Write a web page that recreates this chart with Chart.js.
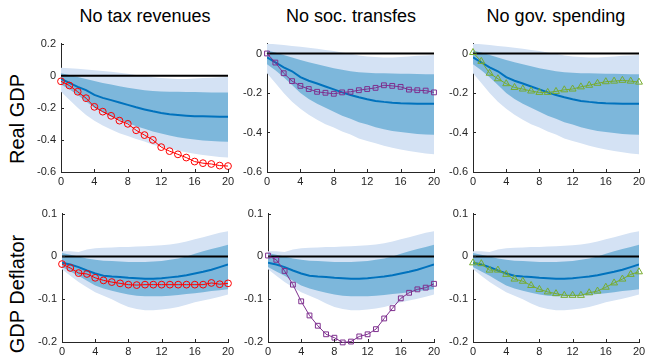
<!DOCTYPE html>
<html>
<head>
<meta charset="utf-8">
<script src="https://cdn.jsdelivr.net/npm/chart.js@4.4.1/dist/chart.umd.min.js"></script>
<style>
  html, body { margin: 0; padding: 0; background: #ffffff; }
  #stage { position: relative; width: 648px; height: 356px; overflow: hidden; font-family: "Liberation Sans", Arial, sans-serif; }
  .panel { position: absolute; }
  .col-title { position: absolute; top: 6px; width: 220px; text-align: center; font-size: 18px; color: #000; white-space: nowrap; }
  .row-title { position: absolute; font-size: 20px; color: #000; white-space: nowrap; transform: translate(-50%, -50%) rotate(-90deg); }
</style>
</head>
<body>
<div id="stage">
  <div class="col-title" style="left:35px">No tax revenues</div>
  <div class="col-title" style="left:241px">No soc. transfes</div>
  <div class="col-title" style="left:446px">No gov. spending</div>
  <div class="row-title" style="left:17px; top:119px">Real GDP</div>
  <div class="row-title" style="left:17px; top:294px">GDP Deflator</div>
</div>
<script>
// Quarters after the shock
const horizon = [0, 1, 2, 3, 4, 5, 6, 7, 8, 9, 10, 11, 12, 13, 14, 15, 16, 17, 18, 19, 20];
const xTicks = [0, 4, 8, 12, 16, 20];

// Real GDP: baseline response with credible bands
const gdpMedian     = [-0.02, -0.045, -0.07, -0.09, -0.12, -0.138, -0.152, -0.167, -0.182, -0.197, -0.21, -0.222, -0.232, -0.24, -0.245, -0.249, -0.252, -0.253, -0.254, -0.255, -0.255];
const gdpInnerUpper = [0.015, 0.005, -0.008, -0.02, -0.033, -0.045, -0.055, -0.065, -0.075, -0.083, -0.09, -0.095, -0.098, -0.1, -0.1, -0.101, -0.102, -0.103, -0.104, -0.105, -0.105];
const gdpInnerLower = [-0.055, -0.085, -0.12, -0.16, -0.2, -0.23, -0.255, -0.275, -0.295, -0.315, -0.33, -0.348, -0.36, -0.373, -0.383, -0.392, -0.398, -0.403, -0.407, -0.41, -0.412];
const gdpOuterUpper = [0.05, 0.047, 0.043, 0.038, 0.034, 0.029, 0.024, 0.018, 0.012, 0.005, -0.002, -0.01, -0.015, -0.018, -0.02, -0.02, -0.018, -0.015, -0.012, -0.01, -0.008];
const gdpOuterLower = [-0.1, -0.15, -0.2, -0.245, -0.28, -0.31, -0.335, -0.358, -0.375, -0.395, -0.41, -0.43, -0.443, -0.455, -0.467, -0.477, -0.486, -0.494, -0.5, -0.506, -0.51];

// Real GDP: counterfactual responses
const gdpNoTax       = [-0.035, -0.061, -0.1, -0.14, -0.194, -0.224, -0.25, -0.28, -0.3, -0.34, -0.37, -0.4, -0.445, -0.47, -0.49, -0.51, -0.535, -0.545, -0.55, -0.56, -0.563];
const gdpNoTransfers = [0, -0.046, -0.1, -0.14, -0.164, -0.18, -0.194, -0.199, -0.204, -0.197, -0.194, -0.186, -0.18, -0.174, -0.161, -0.164, -0.169, -0.183, -0.186, -0.188, -0.197];
const gdpNoSpending  = [0.005, -0.04, -0.1, -0.128, -0.153, -0.172, -0.18, -0.19, -0.197, -0.197, -0.192, -0.184, -0.18, -0.169, -0.161, -0.151, -0.143, -0.14, -0.136, -0.14, -0.145];

// GDP deflator: baseline response with credible bands
const deflMedian     = [-0.015, -0.019, -0.025, -0.033, -0.04, -0.045, -0.047, -0.048, -0.05, -0.051, -0.052, -0.052, -0.051, -0.049, -0.047, -0.044, -0.04, -0.036, -0.031, -0.025, -0.019];
const deflInnerUpper = [0.008, 0.004, 0, -0.005, -0.008, -0.01, -0.011, -0.012, -0.013, -0.013, -0.013, -0.012, -0.011, -0.008, -0.005, 0, 0.006, 0.012, 0.017, 0.022, 0.027];
const deflInnerLower = [-0.025, -0.035, -0.045, -0.057, -0.068, -0.075, -0.08, -0.085, -0.089, -0.092, -0.093, -0.093, -0.093, -0.092, -0.09, -0.088, -0.086, -0.084, -0.081, -0.079, -0.077];
const deflOuterUpper = [0.012, 0.012, 0.01, 0.016, 0.019, 0.02, 0.021, 0.022, 0.022, 0.023, 0.024, 0.025, 0.026, 0.028, 0.031, 0.035, 0.04, 0.045, 0.05, 0.055, 0.059];
const deflOuterLower = [-0.03, -0.045, -0.06, -0.072, -0.084, -0.092, -0.1, -0.11, -0.118, -0.123, -0.126, -0.126, -0.124, -0.122, -0.118, -0.113, -0.107, -0.103, -0.099, -0.094, -0.089];

// GDP deflator: counterfactual responses
const deflNoTax       = [-0.018, -0.027, -0.039, -0.041, -0.05, -0.056, -0.06, -0.063, -0.066, -0.067, -0.066, -0.066, -0.066, -0.066, -0.066, -0.066, -0.066, -0.066, -0.062, -0.065, -0.063];
const deflNoTransfers = [0.002, -0.008, -0.034, -0.066, -0.105, -0.138, -0.162, -0.182, -0.19, -0.201, -0.199, -0.187, -0.182, -0.17, -0.145, -0.121, -0.098, -0.085, -0.077, -0.073, -0.064];
const deflNoSpending  = [-0.015, -0.017, -0.032, -0.032, -0.042, -0.053, -0.058, -0.068, -0.077, -0.083, -0.087, -0.091, -0.091, -0.091, -0.085, -0.081, -0.072, -0.062, -0.053, -0.042, -0.036];

// Axis ranges and tick labels
const gdpRangeLeft  = [-0.6, 0.2];
const gdpRangeOther = [-0.6, 0.05];
const gdpTicksLeft  = [-0.6, -0.4, -0.2, 0, 0.2];
const gdpTicksOther = [-0.6, -0.4, -0.2, 0];
const deflRange     = [-0.2, 0.1];
const deflTicks     = [-0.2, -0.1, 0, 0.1];
const baseline = 0;

const COLORS = {
  outer: '#d4e2f4',
  inner: '#7db7db',
  median: '#0072bd',
  axis: '#262626',
  noTax: '#ff0000',
  noTransfers: '#7e2f8e',
  noSpending: '#77ac30'
};

const Y_AXIS_W = 45, X_AXIS_H = 16, PAD_T = 8, PAD_R = 14;

const panels = [
  { left: 61,  top: 40,  w: 167, h: 132, band: [gdpOuterUpper, gdpOuterLower, gdpInnerUpper, gdpInnerLower, gdpMedian], cf: gdpNoTax,       color: COLORS.noTax,       marker: 'circle',   range: gdpRangeLeft,  ticks: gdpTicksLeft },
  { left: 267, top: 40,  w: 167, h: 132, band: [gdpOuterUpper, gdpOuterLower, gdpInnerUpper, gdpInnerLower, gdpMedian], cf: gdpNoTransfers, color: COLORS.noTransfers, marker: 'rect',     range: gdpRangeOther, ticks: gdpTicksOther },
  { left: 473, top: 40,  w: 166, h: 132, band: [gdpOuterUpper, gdpOuterLower, gdpInnerUpper, gdpInnerLower, gdpMedian], cf: gdpNoSpending,  color: COLORS.noSpending,  marker: 'triangle', range: gdpRangeOther, ticks: gdpTicksOther },
  { left: 62,  top: 210, w: 166, h: 132, band: [deflOuterUpper, deflOuterLower, deflInnerUpper, deflInnerLower, deflMedian], cf: deflNoTax,       color: COLORS.noTax,       marker: 'circle',   range: deflRange, ticks: deflTicks },
  { left: 268, top: 210, w: 166, h: 132, band: [deflOuterUpper, deflOuterLower, deflInnerUpper, deflInnerLower, deflMedian], cf: deflNoTransfers, color: COLORS.noTransfers, marker: 'rect',     range: deflRange, ticks: deflTicks },
  { left: 473, top: 210, w: 166, h: 132, band: [deflOuterUpper, deflOuterLower, deflInnerUpper, deflInnerLower, deflMedian], cf: deflNoSpending,  color: COLORS.noSpending,  marker: 'triangle', range: deflRange, ticks: deflTicks }
];

const toPoints = (vals) => horizon.map((h, i) => ({ x: h, y: vals[i] }));

// Small inward-pointing tick marks on both axes
const inwardTicks = {
  id: 'inwardTicks',
  afterDraw(chart) {
    const { ctx, chartArea, scales } = chart;
    ctx.save();
    ctx.strokeStyle = COLORS.axis;
    ctx.lineWidth = 1;
    ctx.beginPath();
    scales.x.ticks.forEach(t => {
      const px = Math.round(scales.x.getPixelForValue(t.value)) + 0.5;
      ctx.moveTo(px, chartArea.bottom);
      ctx.lineTo(px, chartArea.bottom - 3);
    });
    scales.y.ticks.forEach(t => {
      const py = Math.round(scales.y.getPixelForValue(t.value)) + 0.5;
      ctx.moveTo(chartArea.left, py);
      ctx.lineTo(chartArea.left + 3, py);
    });
    ctx.stroke();
    ctx.restore();
  }
};

const stage = document.getElementById('stage');

panels.forEach((p) => {
  const holder = document.createElement('div');
  holder.className = 'panel';
  const cw = Y_AXIS_W + p.w + PAD_R;
  const ch = PAD_T + p.h + X_AXIS_H;
  holder.style.left = (p.left - Y_AXIS_W) + 'px';
  holder.style.top = (p.top - PAD_T) + 'px';
  holder.style.width = cw + 'px';
  holder.style.height = ch + 'px';
  const canvas = document.createElement('canvas');
  canvas.width = cw;
  canvas.height = ch;
  canvas.style.width = cw + 'px';
  canvas.style.height = ch + 'px';
  holder.appendChild(canvas);
  stage.appendChild(holder);

  const [outerUp, outerLo, innerUp, innerLo, median] = p.band;
  const ends = [horizon[0], horizon[horizon.length - 1]];

  new Chart(canvas, {
    type: 'line',
    data: {
      datasets: [
        { data: toPoints(outerUp), fill: '+1', backgroundColor: COLORS.outer, borderWidth: 0, pointRadius: 0, order: 6 },
        { data: toPoints(outerLo), fill: false, borderWidth: 0, pointRadius: 0, order: 6 },
        { data: toPoints(innerUp), fill: '+1', backgroundColor: COLORS.inner, borderWidth: 0, pointRadius: 0, order: 5 },
        { data: toPoints(innerLo), fill: false, borderWidth: 0, pointRadius: 0, order: 5 },
        { data: ends.map(x => ({ x, y: baseline })), borderColor: '#000000', borderWidth: 2, pointRadius: 0, fill: false, order: 3 },
        { data: toPoints(median), borderColor: COLORS.median, borderWidth: 2, pointRadius: 0, fill: false, order: 2 },
        { data: toPoints(p.cf), borderColor: p.color, borderWidth: 1, fill: false, order: 1, clip: false,
          pointStyle: p.marker, pointRadius: p.marker === 'triangle' ? 4 : 3.4, pointBorderWidth: 1,
          pointBorderColor: p.color, pointBackgroundColor: 'rgba(255,255,255,0)' }
      ]
    },
    options: {
      responsive: false,
      animation: false,
      devicePixelRatio: 1,
      events: [],
      layout: { padding: { top: PAD_T, right: PAD_R, left: 0, bottom: 0 } },
      plugins: { legend: { display: false }, tooltip: { enabled: false } },
      elements: { line: { tension: 0 } },
      scales: {
        x: {
          type: 'linear',
          min: horizon[0],
          max: horizon[horizon.length - 1],
          afterBuildTicks: (s) => { s.ticks = xTicks.map(v => ({ value: v })); },
          afterFit: (s) => { s.height = X_AXIS_H; },
          grid: { display: false, drawTicks: false },
          border: { display: true, color: COLORS.axis, width: 1 },
          ticks: { color: COLORS.axis, font: { family: 'Liberation Sans', size: 11 }, padding: 3, maxRotation: 0 }
        },
        y: {
          type: 'linear',
          min: p.range[0],
          max: p.range[1],
          afterBuildTicks: (s) => { s.ticks = p.ticks.map(v => ({ value: v })); },
          afterFit: (s) => { s.width = Y_AXIS_W; },
          grid: { display: false, drawTicks: false },
          border: { display: true, color: COLORS.axis, width: 1 },
          ticks: { color: COLORS.axis, font: { family: 'Liberation Sans', size: 11 }, padding: 5,
                   callback: (v) => String(Math.round(v * 10) / 10) }
        }
      }
    },
    plugins: [inwardTicks]
  });
});
</script>
</body>
</html>
